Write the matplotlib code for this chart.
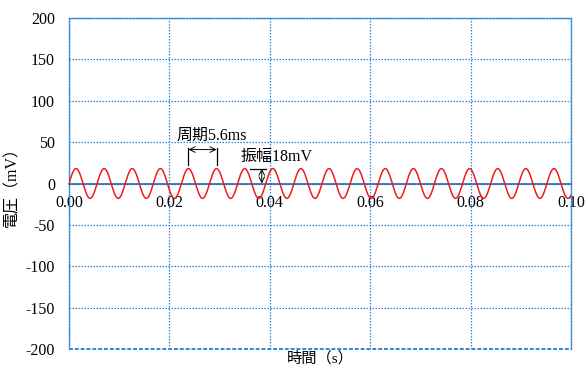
import numpy as np
import matplotlib
matplotlib.use("Agg")
import matplotlib.pyplot as plt

# Data
amplitude_mv = 18.0
period_s = 0.0056
t_start, t_end = 0.0, 0.10
x_ticks = [0.00, 0.02, 0.04, 0.06, 0.08, 0.10]
x_tick_labels = ["0.00", "0.02", "0.04", "0.06", "0.08", "0.10"]
y_ticks = [-200, -150, -100, -50, 0, 50, 100, 150, 200]
y_tick_labels = ["-200", "-150", "-100", "-50", "0", "50", "100", "150", "200"]
x_label = "時間（s）"
y_label = "電圧（mV）"
period_label = "周期5.6ms"
amp_label = "振幅18mV"

fams = ["Liberation Serif", "Noto Sans CJK JP"]
plt.rcParams["font.family"] = fams

t = np.linspace(t_start, t_end, 4000)
v = amplitude_mv * np.sin(2 * np.pi * t / period_s)

fig = plt.figure(figsize=(5.86, 3.67), dpi=100)
ax = fig.add_axes([69/586, 1-349/367, (571-69)/586, (349-18)/367])

grid_c = "#2f86d6"
ax.set_xlim(t_start, t_end)
ax.set_ylim(-200, 200)
ax.set_xticks(x_ticks)
ax.set_xticklabels(x_tick_labels)
ax.set_yticks(y_ticks)
ax.set_yticklabels(y_tick_labels)
ax.grid(True, color=grid_c, linestyle=(0, (1.2, 1.2)), linewidth=0.9)
ax.tick_params(length=0, labelsize=11.5, colors="black")
ax.tick_params(axis="x", pad=8)
ax.tick_params(axis="y", pad=10)

for s in ["top", "left", "right"]:
    ax.spines[s].set_color(grid_c)
    ax.spines[s].set_linestyle((0, (1.2, 1.2)))
    ax.spines[s].set_linewidth(1.0)
ax.spines["bottom"].set_position(("data", 0))
ax.spines["bottom"].set_color("#2467b0")
ax.spines["bottom"].set_linewidth(1.2)
ax.axhline(-200, color=grid_c, linestyle=(0, (2, 1)), linewidth=1.4, clip_on=False)

ax.plot(t, v, color="#ee1c1c", linewidth=1.1, zorder=3)

# Period annotation
p0 = period_s / 4 + 4 * period_s
p1 = p0 + period_s
ax.plot([p0, p0], [22, 43], color="black", lw=0.9)
ax.plot([p1, p1], [22, 43], color="black", lw=0.9)
ax.annotate("", xy=(p0, 41), xytext=(p1, 41),
            arrowprops=dict(arrowstyle="<->", lw=0.7, color="black", shrinkA=0, shrinkB=0))
ax.text(0.0285, 48, period_label, ha="center", va="bottom", fontsize=11.5)

# Amplitude annotation
ax.plot([0.0360, 0.0392], [amplitude_mv, amplitude_mv], color="black", lw=0.9)
ax.annotate("", xy=(0.0384, 0), xytext=(0.0384, amplitude_mv),
            arrowprops=dict(arrowstyle="<->", lw=0.7, color="black", shrinkA=0, shrinkB=0))
ax.text(0.0342, 32, amp_label, ha="left", va="center", fontsize=11.5)

fig.text(320/586, 1-358/367, x_label, ha="center", va="center", fontsize=11)
fig.text(12/586, 1-183/367, y_label, rotation=90, ha="center", va="center", fontsize=11.5)

fig.savefig("out.png", dpi=100)
